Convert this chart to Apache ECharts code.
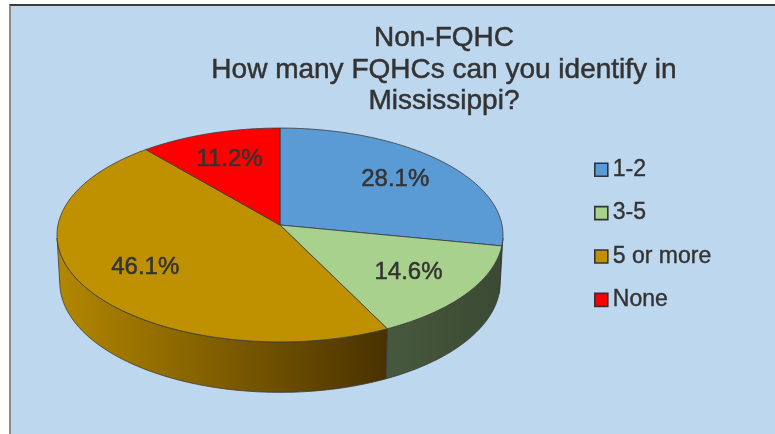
<!DOCTYPE html>
<html><head><meta charset="utf-8">
<script src="https://cdn.jsdelivr.net/npm/echarts@6/dist/echarts.min.js"></script>
<style>
html,body{margin:0;padding:0;background:#ffffff;}
#frame{position:absolute;left:9px;top:4px;width:766px;height:430px;background:#BDD7EE;border-top:2px solid #3a3a3a;border-left:2px solid #8a8a8a;box-sizing:border-box;}
#main{position:absolute;left:0;top:0;width:775px;height:434px;}
</style></head><body>
<div id="frame"></div><div id="main"></div>
<script>
// ---- data ----
const categories = ['1-2', '3-5', '5 or more', 'None'];
const values = [28.1, 14.6, 46.1, 11.2];
const titleText = 'Non-FQHC\nHow many FQHCs can you identify in\nMississippi?';

// ---- styling ----
const topColors = ['#5B9BD5', '#A9D18E', '#BF9000', '#FF0000'];
const sideColors = [
  '#2F6494',
  {type:'linear', x:0, y:0, x2:1, y2:0, colorStops:[{offset:0,color:'#47593D'},{offset:1,color:'#3B4A33'}]},
  {type:'linear', x:0, y:0, x2:1, y2:0, colorStops:[{offset:0,color:'#B38700'},{offset:0.5,color:'#7E5D00'},{offset:1,color:'#483100'}]},
  '#9E0000'
];
const FONT = '"Liberation Sans", Arial, sans-serif';
const TEXT_COLOR = '#333333';

// ---- 3D projection layout ----
const CX = 280, CY = 225, S = 222;
const SIN_E = 0.4775, COS_E = 0.8786, INV_D = 0.1064, DEPTH = 0.245;
const LABEL_R = 0.7;

function proj(phi, r, Y) {
  const x = r * Math.sin(phi), z = -r * Math.cos(phi);
  const dz = z * COS_E + Y * SIN_E;
  const w = 1 - dz * INV_D;
  return [CX + S * x / w, CY + S * (z * SIN_E - Y * COS_E) / w];
}
// visible side wall range (tangent points of the cylinder)
const tcos = INV_D / COS_E;
const VIS0 = Math.acos(-tcos), VIS1 = 2 * Math.PI - Math.acos(-tcos);

const total = values.reduce((a, b) => a + b, 0);

function makeRender(i) {
  return function (params, api) {
    let start = 0;
    for (let k = 0; k < i; k++) start += values[k];
    const a0 = start / total * 2 * Math.PI;
    const a1 = (start + values[i]) / total * 2 * Math.PI;
    const children = [];
    const n = Math.max(2, Math.ceil((a1 - a0) / 0.015));
    // side wall
    const v0 = Math.max(a0, VIS0), v1 = Math.min(a1, VIS1);
    if (v1 > v0) {
      const m = Math.max(2, Math.ceil((v1 - v0) / 0.015));
      const sp = [];
      for (let j = 0; j <= m; j++) sp.push(proj(v0 + (v1 - v0) * j / m, 1, 0));
      for (let j = m; j >= 0; j--) sp.push(proj(v0 + (v1 - v0) * j / m, 1, -DEPTH));
      children.push({type:'polygon', shape:{points: sp}, z2: 1,
        style:{fill: sideColors[i], stroke:'#3a3a3a', lineWidth:0.8, lineJoin:'round'}});
    }
    // top face
    const pts = [[CX, CY]];
    for (let j = 0; j <= n; j++) pts.push(proj(a0 + (a1 - a0) * j / n, 1, 0));
    children.push({type:'polygon', shape:{points: pts}, z2: 5,
      style:{fill: api.visual('color'), stroke:'#3a3a3a', lineWidth:0.8, lineJoin:'round'}});
    // label
    const lp = proj((a0 + a1) / 2, LABEL_R, 0);
    children.push({type:'text', z2: 10, style:{
      text: (values[i] / total * 100).toFixed(1) + '%',
      x: lp[0], y: lp[1], align:'center', verticalAlign:'middle',
      fill: TEXT_COLOR, fontSize: 24, fontFamily: FONT,
      stroke: TEXT_COLOR, lineWidth: 0.5}});
    return {type:'group', children};
  };
}

const chart = echarts.init(document.getElementById('main'), null, {renderer:'canvas'});
chart.setOption({
  animation: false,
  backgroundColor: 'transparent',
  title: {
    text: titleText, left: 444, top: 23, textAlign: 'center', padding: 0,
    textStyle: {fontSize: 28, fontWeight: 'normal', color: TEXT_COLOR, fontFamily: FONT, lineHeight: 31.5,
      textBorderColor: TEXT_COLOR, textBorderWidth: 0.5}
  },
  legend: {
    orient: 'vertical', left: 594, top: 158, padding: 0, itemWidth: 13, itemHeight: 13, itemGap: 20,
    icon: 'rect', data: categories, selectedMode: false,
    itemStyle: {borderColor: '#333333', borderWidth: 1.6},
    textStyle: {fontSize: 23, color: TEXT_COLOR, fontFamily: FONT, textBorderColor: TEXT_COLOR, textBorderWidth: 0.4}
  },
  series: categories.map((c, i) => ({
    type: 'custom', name: c, coordinateSystem: 'none', silent: true,
    itemStyle: {color: topColors[i]},
    renderItem: makeRender(i),
    data: [{name: c, value: values[i]}]
  }))
});
</script>
</body></html>
